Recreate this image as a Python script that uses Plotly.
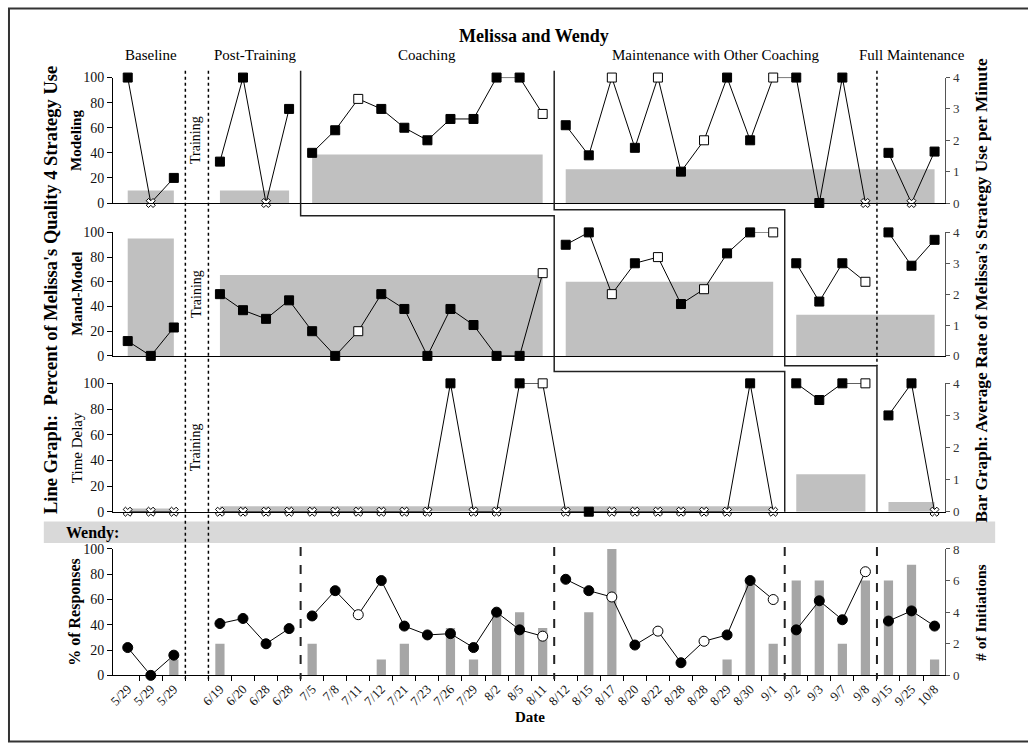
import plotly.graph_objects as go

W, H = 1028, 751
FONT = 'Liberation Serif'

# ---------------- data ----------------
dates = ['5/29', '5/29', '5/29',
         '6/19', '6/20', '6/28', '6/28',
         '7/5', '7/8', '7/11', '7/12', '7/21', '7/23', '7/26', '7/29', '8/2', '8/5', '8/11',
         '8/12', '8/15', '8/17', '8/20', '8/22', '8/28', '8/28', '8/29', '8/30', '9/1',
         '9/2', '9/3', '9/7', '9/8',
         '9/15', '9/25', '10/8']
# one empty slot on the date axis is kept for the training session
slots = [k if k < 3 else k + 1 for k in range(len(dates))]

phase_names = ['Baseline', 'Post-Training', 'Coaching',
               'Maintenance with Other Coaching', 'Full Maintenance']

# point codes: f = filled, o = open, x = cross
modeling_pct = [100, 0, 20,
                33, 100, 0, 75,
                40, 58, 83, 75, 60, 50, 67, 67, 100, 100, 71,
                62, 38, 100, 44, 100, 25, 50, 100, 50, 100, 100, 0, 100, 0,
                40, 0, 41]
modeling_pts = 'fxf' + 'ffxf' + 'ffofffffffo' + 'ffofofoffofffx' + 'fxf'
modeling_phases = [0, 3, 7, 18, 32]
modeling_rate_start = [0, 3, 7, 18]
modeling_rate_end = [2, 6, 17, 34]
modeling_rate = [0.4, 0.4, 1.55, 1.08]

mand_pct = [12, 0, 23,
            50, 37, 30, 45, 20, 0, 20, 50, 38, 0, 38, 25, 0, 0, 67,
            90, 100, 50, 75, 80, 42, 54, 83, 100, 100,
            75, 44, 75, 60,
            100, 73, 94]
mand_pts = 'fff' + 'ffffffofffffffo' + 'ffofofoffo' + 'fffo' + 'fff'
mand_phases = [0, 3, 18, 28, 32]
mand_rate_start = [0, 3, 18, 28]
mand_rate_end = [2, 17, 27, 34]
mand_rate = [3.8, 2.62, 2.4, 1.33]

delay_pct = [0, 0, 0,
             0, 0, 0, 0, 0, 0, 0, 0, 0, 0, 100, 0, 0, 100, 100, 0, 0, 0, 0, 0, 0, 0, 0, 100, 0,
             100, 87, 100, 100,
             75, 100, 0]
delay_pts = 'xxx' + 'xxxxxxxxxxfxxfoxfxxxxxxfx' + 'fffo' + 'ffx'
delay_phases = [0, 3, 28, 32]
delay_rate_start = [0, 3, 28, 32]
delay_rate_end = [2, 27, 31, 34]
delay_rate = [0.1, 0.17, 1.17, 0.3]

wendy_pct = [22, 0, 16,
             41, 45, 25, 37,
             47, 67, 48, 75, 39, 32, 33, 22, 50, 36, 31,
             76, 67, 62, 24, 35, 10, 27, 32, 75, 60,
             36, 59, 44, 82,
             43, 51, 39]
wendy_pts = 'fff' + 'ffff' + 'ffofffffffo' + 'ffofofoffo' + 'fffo' + 'fff'
wendy_phases = [0, 3, 7, 18, 28, 32]
wendy_init = [0, 0, 1,
              2, 0, 0, 0,
              2, 0, 0, 1, 2, 0, 3, 1, 4, 4, 3,
              0, 4, 8, 0, 0, 0, 0, 1, 6, 2,
              6, 6, 2, 6,
              6, 7, 1]


# ---------------- helpers ----------------
def px(x):
    return x / W


def py(y):
    return 1 - y / H


def name(prefix, n):
    return prefix if n == 1 else f'{prefix}{n}'


def segments(starts, n):
    ends = [s - 1 for s in starts[1:]] + [n - 1]
    return list(zip(starts, ends))


def marker_style(codes, shape, size):
    sym, col, siz = [], [], []
    for c in codes:
        if c == 'x':
            sym.append('x'); col.append('white'); siz.append(8)
        elif c == 'o':
            sym.append(shape); col.append('white'); siz.append(size)
        else:
            sym.append(shape); col.append('black'); siz.append(size)
    return sym, col, siz


XDOM = [px(108.5), px(945)]
XR = [-0.64, 35.47]
panel_px = [(72, 200), (230, 356), (384, 515), (553, 682)]
YDOM = [[py(b), py(t)] for t, b in panel_px]

fig = go.Figure()

panels = [
    (modeling_pct, modeling_pts, modeling_phases, modeling_rate_start, modeling_rate_end, modeling_rate),
    (mand_pct, mand_pts, mand_phases, mand_rate_start, mand_rate_end, mand_rate),
    (delay_pct, delay_pts, delay_phases, delay_rate_start, delay_rate_end, delay_rate),
]

# Melissa panels: phase-mean bars on the right axis, session lines on the left axis
for p, (vals, codes, phases, rs, re_, rv) in enumerate(panels):
    xa = name('x', p + 1)
    yb = name('y', 2 * p + 1)
    yl = name('y', 2 * p + 2)
    centers = [(slots[s] + slots[e]) / 2 for s, e in zip(rs, re_)]
    widths = [slots[e] - slots[s] for s, e in zip(rs, re_)]
    fig.add_trace(go.Bar(x=centers, y=rv, width=widths, marker_color='#c0c0c0',
                         marker_line_width=0, xaxis=xa, yaxis=yb,
                         showlegend=False, hoverinfo='skip'))
    sym, col, siz = marker_style(codes, 'square', 9)
    for s, e in segments(phases, len(vals)):
        fig.add_trace(go.Scatter(
            x=[slots[k] for k in range(s, e + 1)], y=vals[s:e + 1],
            mode='lines+markers', line=dict(color='black', width=1),
            marker=dict(symbol=sym[s:e + 1], color=col[s:e + 1], size=siz[s:e + 1],
                        opacity=1, line=dict(color='black', width=1)),
            xaxis=xa, yaxis=yl, cliponaxis=False, showlegend=False, hoverinfo='skip'))

# Wendy panel: initiation bars (right) and response percentages (left)
fig.add_trace(go.Bar(x=slots, y=wendy_init, width=0.4, marker_color='#a6a6a6',
                     marker_line_width=0, xaxis='x4', yaxis='y7',
                     showlegend=False, hoverinfo='skip'))
sym, col, siz = marker_style(wendy_pts, 'circle', 10)
for s, e in segments(wendy_phases, len(wendy_pct)):
    fig.add_trace(go.Scatter(
        x=[slots[k] for k in range(s, e + 1)], y=wendy_pct[s:e + 1],
        mode='lines+markers', line=dict(color='black', width=1),
        marker=dict(symbol=sym[s:e + 1], color=col[s:e + 1], size=siz[s:e + 1],
                    opacity=1, line=dict(color='black', width=1)),
        xaxis='x4', yaxis='y8', cliponaxis=False, showlegend=False, hoverinfo='skip'))

# ---------------- axes ----------------
layout = dict(
    width=W, height=H, margin=dict(l=0, r=0, t=0, b=0),
    paper_bgcolor='white', plot_bgcolor='rgba(0,0,0,0)',
    barmode='overlay', font=dict(family=FONT, color='black'),
)
right_max = [4, 4, 4, 8]
right_dtick = [1, 1, 1, 2]
for p in range(4):
    xk = 'xaxis' if p == 0 else f'xaxis{p + 1}'
    xa = dict(domain=XDOM, range=XR, anchor=name('y', 2 * p + 1),
              showline=True, linecolor='black', linewidth=1,
              showgrid=False, zeroline=False, showticklabels=False, ticks='')
    if p == 3:
        xa.update(showticklabels=True, tickvals=slots, ticktext=dates, tickangle=-45,
                  tickfont=dict(family=FONT, size=13, color='#111'),
                  minor=dict(tickvals=[s + 0.5 for s in range(len(dates) + 1)],
                             ticks='outside', ticklen=5, tickcolor='black'))
    layout[xk] = xa
    yb = 'yaxis' if p == 0 else f'yaxis{2 * p + 1}'
    layout[yb] = dict(domain=YDOM[p], range=[0, right_max[p]], dtick=right_dtick[p],
                      side='right', anchor=name('x', p + 1),
                      showline=True, linecolor='#555', linewidth=1,
                      ticks='outside', ticklen=4, tickcolor='#555',
                      tickfont=dict(family=FONT, size=13, color='#333'),
                      showgrid=False, zeroline=False)
    layout[f'yaxis{2 * p + 2}'] = dict(domain=YDOM[p], range=[0, 100], dtick=20,
                                      side='left', overlaying=name('y', 2 * p + 1),
                                      anchor=name('x', p + 1),
                                      showline=True, linecolor='black', linewidth=1,
                                      ticks='outside', ticklen=5, tickcolor='black',
                                      tickfont=dict(family=FONT, size=14, color='#111'),
                                      showgrid=False, zeroline=False)

# ---------------- text ----------------
ann = []


def text(t, x, y, size=14, angle=0, xref='paper', xanchor='center', color='black'):
    ann.append(dict(text=t, x=x, y=y, xref=xref, yref='paper', showarrow=False,
                    textangle=angle, xanchor=xanchor, yanchor='middle',
                    font=dict(family=FONT, size=size, color=color)))


text('<b>Melissa and Wendy</b>', px(532), py(30), size=18)
for nm, (s, e) in zip(phase_names, segments(modeling_phases, len(dates))):
    text(nm, (slots[s] + slots[e]) / 2, py(49), size=15, xref='x')

mids = [(YDOM[p][0] + YDOM[p][1]) / 2 for p in range(4)]
for p in range(3):
    text('Training', 2.95, mids[p], size=14, angle=-90, xref='x')
text('<b>Modeling</b>', px(72), mids[0], size=15, angle=-90)
text('<b>Mand-Model</b>', px(72), mids[1], size=15, angle=-90)
text('Time Delay', px(72), mids[2], size=15, angle=-90)
text("<b>Line Graph:  Percent of Melissa's Quality 4 Strategy Use</b>", px(46), py(289),
     size=18.5, angle=-90)
text("<b>Bar Graph: Average Rate of Melissa's Strategy Use per Minute</b>", px(981), py(289),
     size=17.3, angle=-90)
text('<b>Wendy:</b>', px(59), py(537), size=16, xanchor='left')
text('<b>% of Responses</b>', px(71), mids[3], size=16, angle=-90)
text('<b># of Initiations</b>', px(980), py(618), size=15.5, angle=-90)
text('<b>Date</b>', px(528), py(724), size=15)

# ---------------- phase-change lines ----------------
shapes = []
# outer frame (its right edge lies just beyond the page)
shapes.append(dict(type='rect', xref='paper', yref='paper', x0=px(4), x1=px(1032),
                   y0=py(749.5), y1=py(1.5), line=dict(color='#333', width=2)))
# Wendy banner
shapes.append(dict(type='rect', xref='paper', yref='paper', x0=px(39), x1=px(995),
                   y0=py(547), y1=py(525), fillcolor='#d9d9d9', line=dict(width=0)))

b_train0 = slots[2] + 0.5
b_train1 = slots[3] - 0.5
for xb in (b_train0, b_train1):
    shapes.append(dict(type='line', xref='x', yref='paper', x0=xb, x1=xb,
                       y0=py(65), y1=py(686), line=dict(color='black', width=1.5, dash='dot')))

mod_b = [slots[k] - 0.5 for k in modeling_phases[1:]]
mand_b = [slots[k] - 0.5 for k in mand_phases[1:]]
del_b = [slots[k] - 0.5 for k in delay_phases[1:]]

# full maintenance change across Modeling and Mand-Model
shapes.append(dict(type='line', xref='x', yref='paper', x0=mod_b[3], x1=mod_b[3],
                   y0=py(65), y1=py(366), line=dict(color='black', width=1.5, dash='dot')))

# staggered phase-change steps
stepA = [(mod_b[1], 65), (mod_b[1], 213), (mand_b[1], 213), (mand_b[1], 372),
         (del_b[1], 372), (del_b[1], 515)]
stepB = [(mod_b[2], 65), (mod_b[2], 207), (mand_b[2], 207), (mand_b[2], 366),
         (del_b[2], 366), (del_b[2], 515)]
for step in (stepA, stepB):
    path = 'M ' + ' L '.join(f'{x},{py(y)}' for x, y in step)
    shapes.append(dict(type='path', xref='x', yref='paper', path=path,
                       line=dict(color='#222', width=1.5)))

for k in wendy_phases[2:]:
    xb = slots[k] - 0.5
    shapes.append(dict(type='line', xref='x4', yref='paper', x0=xb, x1=xb,
                       y0=py(551), y1=py(686), line=dict(color='#222', width=2, dash='dash')))

layout['annotations'] = ann
layout['shapes'] = shapes
fig.update_layout(**layout)

fig.write_html('out.html')
